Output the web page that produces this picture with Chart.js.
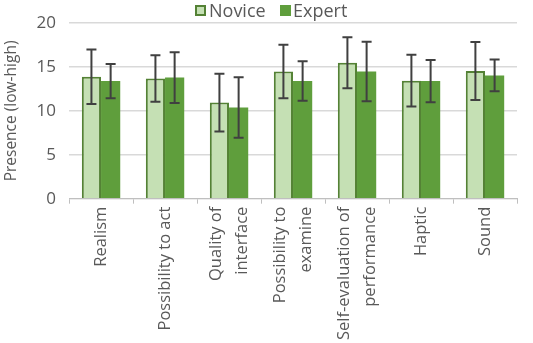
<!DOCTYPE html>
<html><head><meta charset="utf-8">
<script src="https://cdn.jsdelivr.net/npm/chart.js@4.4.1/dist/chart.umd.min.js"></script>
<style>
html,body{margin:0;padding:0;background:#fff}
#wrap{width:533px;height:343px;position:relative}
#legend{position:absolute;top:0;left:0;width:533px;height:20px;font-family:'Open Sans','Noto Sans',sans-serif;font-size:18px;color:#595959;line-height:20px}
.item{position:absolute;top:0;white-space:nowrap}
.box{position:absolute;top:5px;width:11px;height:11px;box-sizing:border-box}
</style>
</head><body><div id="wrap"><canvas id="c"></canvas><div id="legend"></div></div>
<script>
const categories = ["Realism","Possibility to act",["Quality of","interface"],["Possibility to","examine"],["Self-evaluation of","performance"],"Haptic","Sound"];
const seriesNames = ["Novice","Expert"];
const novice = [13.9,13.7,10.95,14.5,15.5,13.45,14.55];
const noviceErr = [3.1,2.65,3.3,3.05,2.9,2.95,3.3];
const expert = [13.4,13.8,10.4,13.4,14.5,13.4,14.05];
const expertErr = [1.95,2.9,3.45,2.25,3.4,2.4,1.8];
const yTicks = [0,5,10,15,20];
const FONT = "'Open Sans', 'Noto Sans', sans-serif";

const errorBars = {
  id:'errorBars',
  afterDatasetsDraw(chart){
    const ctx = chart.ctx, y = chart.scales.y;
    const errs = [noviceErr, expertErr];
    chart.data.datasets.forEach((ds,i)=>{
      const meta = chart.getDatasetMeta(i);
      meta.data.forEach((bar,j)=>{
        const v = ds.data[j], e = errs[i][j];
        const x = bar.x, yt = y.getPixelForValue(v+e), yb = y.getPixelForValue(v-e);
        ctx.save();
        ctx.strokeStyle='#404040'; ctx.lineWidth=2;
        ctx.beginPath();
        ctx.moveTo(x,yt); ctx.lineTo(x,yb);
        ctx.moveTo(x-5,yt); ctx.lineTo(x+5,yt);
        ctx.moveTo(x-5,yb); ctx.lineTo(x+5,yb);
        ctx.stroke(); ctx.restore();
      });
    });
  }
};

// center multi-line rotated x labels on their category
const centerLabels = {
  id:'centerLabels',
  beforeDraw(chart){
    const s = chart.scales.x;
    const items = s.getLabelItems();
    items.forEach(it=>{
      if (it._centered) return;
      if (Array.isArray(it.label) && it.label.length>1){
        it.textOffset -= (it.label.length-1)*it.font.lineHeight/2;
      }
      it._centered = true;
    });
  }
};

const chart = new Chart(document.getElementById('c'),{
  type:'bar',
  data:{labels:categories,datasets:[
    {label:seriesNames[0],data:novice,backgroundColor:'#c5e0b4',borderColor:'#548235',borderWidth:{top:2,left:2,right:2,bottom:0},borderSkipped:false,categoryPercentage:0.6,barPercentage:1.0},
    {label:seriesNames[1],data:expert,backgroundColor:'#5f9e3c',borderColor:'#5f9e3c',borderWidth:0,categoryPercentage:0.6,barPercentage:1.0}
  ]},
  options:{
    responsive:true,maintainAspectRatio:false,animation:false,
    layout:{padding:{left:2,right:16,top:15,bottom:0}},
    plugins:{legend:{display:false},tooltip:{enabled:false}},
    scales:{
      x:{grid:{display:true,drawOnChartArea:false,drawTicks:true,tickLength:5,color:'#bfbfbf',offset:true},
        border:{color:'#bfbfbf'},
        ticks:{font:{family:FONT,size:16.5,lineHeight:1.55},color:'#595959',minRotation:90,maxRotation:90,autoSkip:false,padding:3}},
      y:{min:0,max:20,afterBuildTicks(s){s.ticks=yTicks.map(v=>({value:v}));},
        grid:{color:'#d9d9d9',lineWidth:1.5,drawTicks:false},border:{display:false},
        ticks:{font:{family:FONT,size:17},color:'#595959',padding:13},
        title:{display:true,text:'Presence (low-high)',font:{family:FONT,size:15.5},color:'#595959',padding:{top:0,bottom:3}}}
    }
  },
  plugins:[errorBars,centerLabels]
});

// HTML legend built from the datasets
const lg = document.getElementById('legend');
const pos = [{box:195,text:209},{box:280,text:293}];
chart.data.datasets.forEach((d,i)=>{
  const b = document.createElement('div');
  b.className='box'; b.style.left=pos[i].box+'px';
  b.style.background=d.backgroundColor;
  if(i===0) b.style.border='2px solid '+d.borderColor;
  const t = document.createElement('div');
  t.className='item'; t.style.left=pos[i].text+'px'; t.textContent=d.label;
  lg.appendChild(b); lg.appendChild(t);
});
</script></body></html>
